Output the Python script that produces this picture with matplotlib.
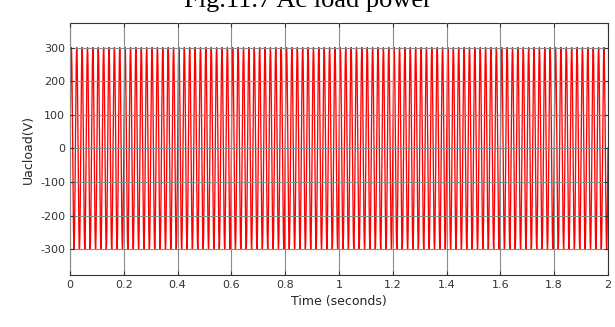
import numpy as np
import matplotlib
matplotlib.use("Agg")
import matplotlib.pyplot as plt

# Waveform: 50 Hz AC load voltage, peak 300 V, 0..2 s
one_cycle_v = [0, 93, 176, 243, 285, 300, 285, 243, 176, 93,
               0, -93, -176, -243, -285, -300, -285, -243, -176, -93]
n_cycles = 100
cycle_period_s = 0.02

x_ticks = [0, 0.2, 0.4, 0.6, 0.8, 1, 1.2, 1.4, 1.6, 1.8, 2]
x_tick_labels = ["0", "0.2", "0.4", "0.6", "0.8", "1", "1.2", "1.4", "1.6", "1.8", "2"]
y_ticks = [-300, -200, -100, 0, 100, 200, 300]
y_tick_labels = ["-300", "-200", "-100", "0", "100", "200", "300"]

volts = np.array(one_cycle_v * n_cycles + [one_cycle_v[0]], dtype=float)
dt = cycle_period_s / len(one_cycle_v)
t = np.arange(len(volts)) * dt

fig = plt.figure(figsize=(6.15, 3.27), dpi=100)
ax = fig.add_axes([70 / 615, 52 / 327, 538 / 615, 252 / 327])

ax.plot(t, volts, color="red", linewidth=0.95)

ax.set_xlim(0, 2)
ax.set_ylim(-377, 373)
ax.set_xticks(x_ticks)
ax.set_xticklabels(x_tick_labels)
ax.set_yticks(y_ticks)
ax.set_yticklabels(y_tick_labels)
ax.grid(True, color="#8c8c8c", linewidth=0.8)
ax.set_axisbelow(False)
ax.tick_params(labelsize=8, colors="#333333", length=3, direction="in", top=True, right=True)
for s in ax.spines.values():
    s.set_color("#333333")
    s.set_linewidth(0.8)

ax.set_xlabel("Time (seconds)", fontsize=9, color="#262626")
ax.set_ylabel("Uacload(V)", fontsize=9, color="#262626")

fig.text(0.5, 1 - 7 / 327, "Fig.11.7 Ac load power", ha="center", va="baseline",
         fontsize=19, family="Liberation Serif", color="black")

plt.savefig("out.png", dpi=100)
